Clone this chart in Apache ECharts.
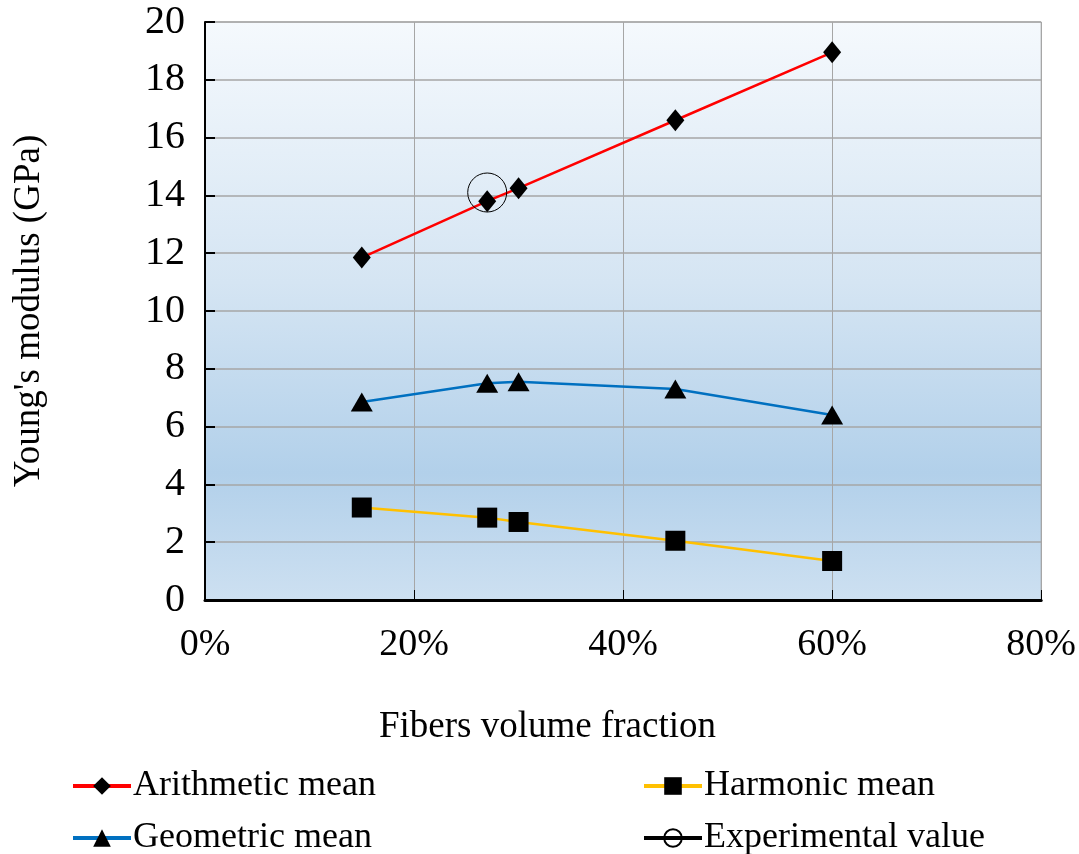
<!DOCTYPE html>
<html>
<head>
<meta charset="utf-8">
<script src="https://cdn.jsdelivr.net/npm/echarts@6/dist/echarts.min.js"></script>
<style>
html, body { margin: 0; padding: 0; background: #fff; }
#chart { width: 1079px; height: 854px; }
</style>
</head>
<body>
<div id="chart"></div>
<script>
// fiber volume fraction (%)
var fractions = [15, 27, 30, 45, 60];
var arithmetic = [11.85, 13.8, 14.25, 16.6, 18.95];
var geometric = [6.85, 7.5, 7.55, 7.3, 6.4];
var harmonic = [3.2, 2.85, 2.7, 2.05, 1.35];
var experimental = [[27, 14.1]];
var xTicks = [0, 20, 40, 60, 80];
var yTicks = [0, 2, 4, 6, 8, 10, 12, 14, 16, 18, 20];

var font = 'Liberation Serif';

function pairs(ys) {
    var out = [];
    for (var i = 0; i < fractions.length; i++) {
        out.push([fractions[i], ys[i]]);
    }
    return out;
}

// one legend box per entry so the 2x2 layout stays fixed
function legendAt(name, left, top) {
    return {
        left: left,
        top: top,
        itemWidth: 58,
        itemHeight: 22,
        lineStyle: { width: 4 },
        textStyle: { fontFamily: font, fontSize: 36, color: '#000', padding: [0, 0, 0, -3] },
        data: [name]
    };
}

var myChart = echarts.init(document.getElementById('chart'));
var option = {
    animation: false,
    title: {
        text: 'Fibers volume fraction',
        left: 374,
        top: 704,
        textStyle: { fontFamily: font, fontSize: 37, fontWeight: 'normal', color: '#000' }
    },
    grid: {
        left: 205,
        right: 35,
        top: 22,
        bottom: 254,
        show: true,
        borderColor: '#a6a6a6',
        borderWidth: 1,
        backgroundColor: new echarts.graphic.LinearGradient(0, 0, 0, 1, [
            { offset: 0, color: '#f5f9fd' },
            { offset: 0.45, color: '#d5e5f3' },
            { offset: 0.78, color: '#b2d0ea' },
            { offset: 1, color: '#cde0f1' }
        ])
    },
    legend: [
        legendAt('Arithmetic mean', 66, 763),
        legendAt('Geometric mean', 66, 815),
        legendAt('Harmonic mean', 637, 763),
        legendAt('Experimental value', 637, 815)
    ],
    xAxis: {
        type: 'value',
        min: xTicks[0],
        max: xTicks[xTicks.length - 1],
        interval: 20,
        axisLine: { show: true, onZero: false, lineStyle: { color: '#000', width: 3 } },
        axisTick: { show: true, inside: true, length: 10, lineStyle: { color: '#000', width: 1 } },
        axisLabel: {
            margin: 26,
            fontFamily: font,
            fontSize: 38,
            color: '#000',
            formatter: function (v) { return v + '%'; }
        },
        splitLine: { show: true, lineStyle: { color: '#a6a6a6', width: 1 } }
    },
    yAxis: {
        type: 'value',
        min: yTicks[0],
        max: yTicks[yTicks.length - 1],
        interval: 2,
        name: "Young's modulus (GPa)",
        nameLocation: 'middle',
        nameRotate: 90,
        nameGap: 157,
        nameTextStyle: { fontFamily: font, fontSize: 37, color: '#000' },
        axisLine: { show: true, lineStyle: { color: '#000', width: 2 } },
        axisTick: { show: true, inside: true, length: 10, lineStyle: { color: '#000', width: 2 } },
        axisLabel: { margin: 20, fontFamily: font, fontSize: 40, color: '#000' },
        splitLine: { show: true, lineStyle: { color: '#a6a6a6', width: 1.5 } }
    },
    series: [{
        name: 'Arithmetic mean',
        type: 'line',
        data: pairs(arithmetic),
        symbol: 'diamond',
        symbolSize: [18, 22],
        itemStyle: { color: '#000' },
        lineStyle: { color: '#ff0000', width: 2.5 },
        z: 3
    }, {
        name: 'Geometric mean',
        type: 'line',
        data: pairs(geometric),
        symbol: 'triangle',
        symbolSize: [22, 19],
        itemStyle: { color: '#000' },
        lineStyle: { color: '#0070c0', width: 2.5 },
        z: 3
    }, {
        name: 'Harmonic mean',
        type: 'line',
        data: pairs(harmonic),
        symbol: 'rect',
        symbolSize: 20,
        itemStyle: { color: '#000' },
        lineStyle: { color: '#ffc000', width: 2.5 },
        z: 3
    }, {
        name: 'Experimental value',
        type: 'line',
        data: experimental,
        symbol: 'circle',
        symbolSize: 39,
        itemStyle: { color: 'transparent', borderColor: '#000', borderWidth: 1 },
        lineStyle: { color: '#000', width: 3 },
        z: 4
    }]
};
myChart.setOption(option);
</script>
</body>
</html>
